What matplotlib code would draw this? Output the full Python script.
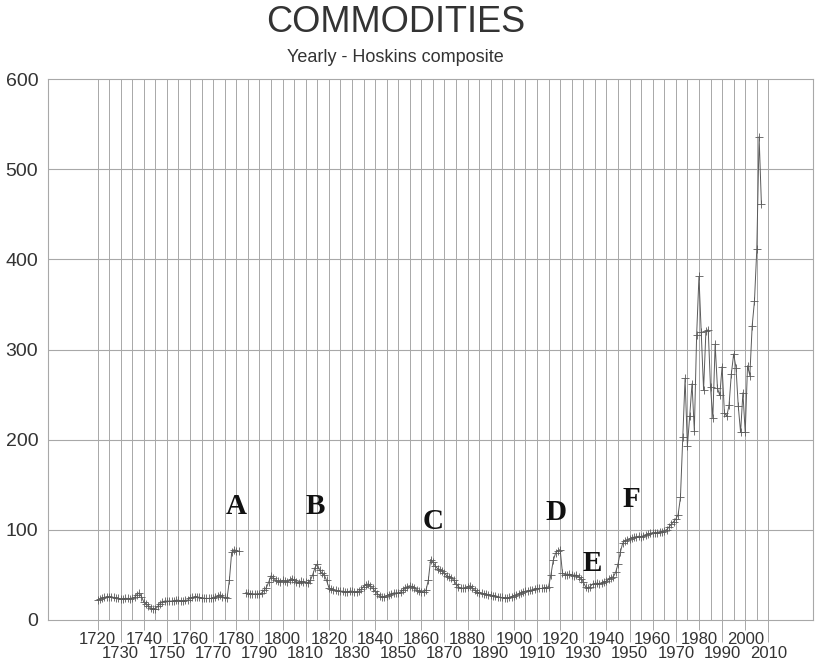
import numpy as np
import matplotlib
matplotlib.use("Agg")
import matplotlib.pyplot as plt

# Hoskins composite commodity index, one value per year (NaN = no data)
years = np.arange(1720, 2008)
index_1720_1781 = [
    22, 23, 24, 25, 26, 26, 26, 25, 24, 24,
    23, 23, 24, 24, 23, 24, 25, 28, 30, 26,
    20, 18, 16, 13, 12, 12, 15, 18, 20, 21,
    21, 21, 21, 21, 22, 22, 21, 21, 22, 22,
    24, 25, 26, 26, 25, 24, 24, 24, 24, 24,
    24, 25, 27, 28, 26, 25, 24, 44, 75, 78,
    77, 76,
]
index_gap = [np.nan, np.nan]
index_1784_1971 = [
    30, 30, 29, 29, 29, 29,
    29, 30, 33, 36, 42, 49, 47, 44, 43, 42,
    44, 43, 42, 44, 46, 44, 42, 41, 43, 42,
    42, 41, 44, 50, 58, 62, 55, 52, 50, 44,
    36, 34, 33, 33, 32, 32, 32, 31, 31, 32,
    32, 31, 31, 32, 34, 37, 39, 40, 38, 35,
    32, 29, 27, 26, 26, 27, 28, 29, 30, 30,
    30, 31, 33, 35, 37, 38, 37, 36, 33, 32,
    31, 31, 33, 44, 67, 64, 60, 57, 56, 54,
    52, 49, 48, 47, 44, 40, 37, 35, 35, 36,
    37, 38, 36, 33, 31, 30, 30, 29, 29, 28,
    28, 27, 27, 26, 25, 25, 24, 24, 25, 26,
    27, 28, 29, 30, 31, 32, 32, 33, 33, 34,
    35, 35, 35, 36, 36, 37, 50, 66, 74, 77,
    78, 52, 50, 50, 51, 50, 49, 50, 48, 46,
    42, 37, 35, 37, 40, 40, 41, 40, 41, 42,
    43, 45, 47, 48, 53, 62, 75, 85, 88, 89,
    90, 91, 92, 92, 93, 92, 93, 94, 95, 96,
    97, 97, 97, 98, 98, 99, 100, 103, 106, 109,
    112, 117,
]
index_1972_2007 = [
    136, 203, 268, 193, 226, 262, 210, 316,
    381, 319, 255, 320, 322, 258, 224, 306, 257, 249,
    281, 230, 226, 238, 273, 295, 280, 237, 208, 252,
    208, 282, 271, 326, 354, 411, 536, 461,
]
index = np.array(index_1720_1781 + index_gap + index_1784_1971 + index_1972_2007,
                 dtype=float)

# event letters: (label, year, value)
events = [
    ("A", 1780, 126),
    ("B", 1814, 126),
    ("C", 1865, 109),
    ("D", 1918, 119),
    ("E", 1934, 63),
    ("F", 1951, 134),
]

grid_col = "#a8a8a8"
text_col = "#333333"

fig = plt.figure(figsize=(8.16, 6.64), dpi=100)
ax = fig.add_axes([48 / 816, 1 - 620 / 664, (813 - 48) / 816, (620 - 79) / 664])

ax.plot(years, index, color="#5a5a5a", linewidth=0.7, marker="+",
        markersize=6, markeredgewidth=0.6)

ax.set_xlim(1698.6, 2029.3)
ax.set_ylim(0, 600)

# gridlines
for yr in range(1720, 2011, 5):
    ax.axvline(yr, color=grid_col, linewidth=0.7, zorder=0)
for v in range(100, 600, 100):
    ax.axhline(v, color=grid_col, linewidth=0.8, zorder=0)

for sp in ax.spines.values():
    sp.set_color(grid_col)
    sp.set_linewidth(0.8)

# y axis: labels only
ax.set_yticks(range(0, 601, 100))
ax.tick_params(axis="y", length=0, pad=7, labelsize=14, labelcolor=text_col)

# x axis: staggered labels, short ticks on the 20s, long ticks on the odd decades
ax.set_xticks(range(1720, 2001, 20))
ax.set_xticks(range(1730, 2011, 20), minor=True)
ax.set_xticklabels([str(y) for y in range(1720, 2001, 20)])
ax.set_xticklabels([str(y) for y in range(1730, 2011, 20)], minor=True)
ax.tick_params(axis="x", which="major", direction="out", length=7, width=0.7,
               color=grid_col, pad=1.5, labelsize=12, labelcolor=text_col)
ax.tick_params(axis="x", which="minor", direction="out", length=16, width=0.7,
               color=grid_col, pad=3, labelsize=12, labelcolor=text_col)

for label, yr, v in events:
    ax.text(yr, v, label, ha="center", va="center", fontsize=21,
            fontweight="bold", family="Liberation Serif", color="#111111")

fig.text(396 / 816, 1 - 23 / 664, "COMMODITIES", ha="center", va="center",
         fontsize=26, family="Liberation Sans", color=text_col)
fig.text(395 / 816, 1 - 58 / 664, "Yearly - Hoskins composite", ha="center",
         va="center", fontsize=13, family="Liberation Sans", color=text_col)

for t in ax.get_xticklabels(which="both") + ax.get_yticklabels():
    t.set_family("Liberation Sans")

fig.savefig("out.png", dpi=100)
